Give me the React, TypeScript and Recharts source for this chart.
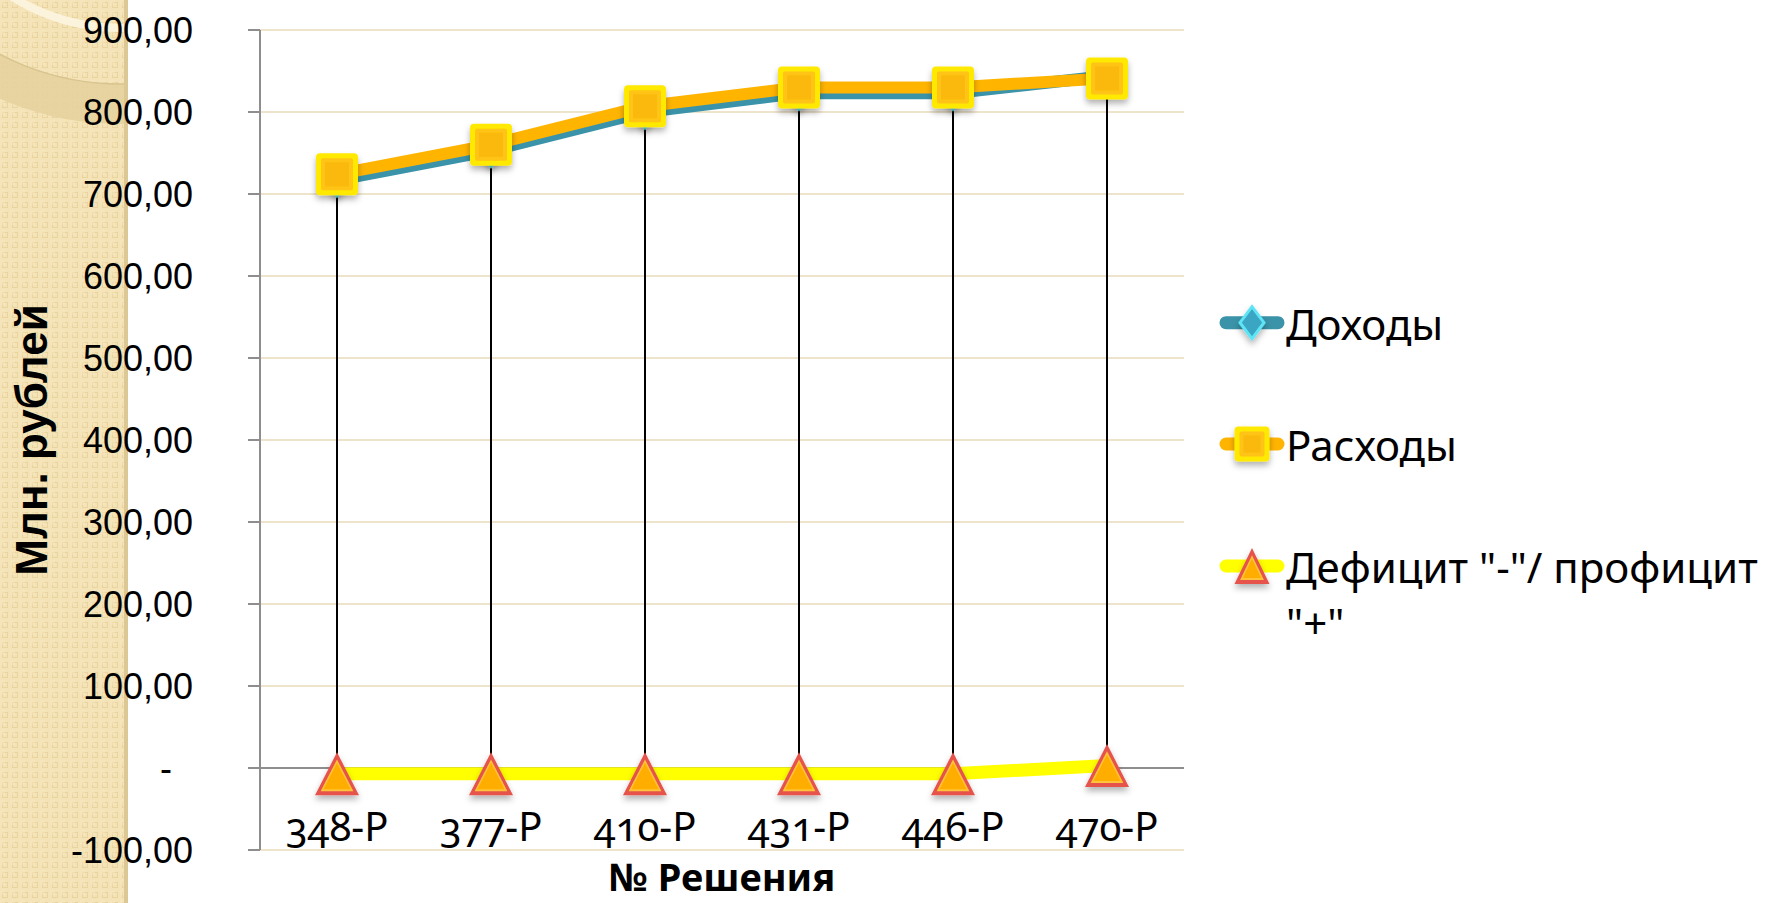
import React from "react";
import {
  ComposedChart,
  Line,
  Bar,
  XAxis,
  YAxis,
  CartesianGrid,
  ReferenceLine,
  Legend,
} from "recharts";

const categories = ["348-Р", "377-Р", "410-Р", "431-Р", "446-Р", "470-Р"];
const incomeValues = [717, 753, 800, 823, 823, 844];
const expenseValues = [724, 760, 807, 830, 830, 841];
const balanceValues = [-7, -7, -7, -7, -7, 3];
const seriesNames = ["Доходы", "Расходы", 'Дефицит "-"/ профицит "+"'];
const yTicks = [-100, 0, 100, 200, 300, 400, 500, 600, 700, 800, 900];
const xTitle = "№ Решения";
const yTitle = "Млн. рублей";

const chartData = categories.map((c, i) => {
  const vals = [incomeValues[i], expenseValues[i], balanceValues[i]];
  return {
    name: c,
    income: incomeValues[i],
    expense: expenseValues[i],
    balance: balanceValues[i],
    hiLo: [Math.min(...vals), Math.max(...vals)],
  };
});

const TEAL = "#3A93A8";
const ORANGE = "#FFB400";
const YELLOW = "#FFFF00";
const AXIS = "#8E8E8E";

function Diamond({ cx, cy, w = 14, h = 16 }: any) {
  return (
    <g filter="url(#mshadow)">
      <polygon
        points={`${cx},${cy - h} ${cx + w},${cy} ${cx},${cy + h} ${cx - w},${cy}`}
        fill="#3BA6C4"
        stroke="#5FE4F6"
        strokeWidth={3}
      />
    </g>
  );
}

function Square({ cx, cy, s = 21 }: any) {
  return (
    <g filter="url(#mshadow)">
      <rect x={cx - s} y={cy - s} width={s * 2} height={s * 2} rx={4} fill="#FFE900" />
      <rect x={cx - s + 5} y={cy - s + 5} width={s * 2 - 10} height={s * 2 - 10} rx={2} fill="#FFC414" />
      <rect x={cx - s + 9} y={cy - s + 9} width={s * 2 - 18} height={s * 2 - 18} fill="#FBB909" />
    </g>
  );
}

function Triangle({ cx, cy, w = 22, h = 21.5 }: any) {
  const tri = (k: number) =>
    `${cx},${cy - h + k * 1.8} ${cx + w - k * 1.4},${cy + h - k} ${cx - w + k * 1.4},${cy + h - k}`;
  return (
    <g filter="url(#mshadow)">
      <polygon points={tri(0)} fill="#E5534B" />
      <polygon points={tri(4)} fill="#FFC23A" />
      <polygon points={tri(6)} fill="#FFAE00" />
    </g>
  );
}

function YTick({ x, y, payload }: any) {
  const v = payload.value;
  const label = v === 0 ? "-" : v.toFixed(2).replace(".", ",");
  return (
    <text
      x={v === 0 ? x - 21 : x}
      y={y}
      dy="0.355em"
      textAnchor="end"
      fontFamily="Liberation Sans, Arial, sans-serif"
      fontSize={36}
      fill="#000"
    >
      {label}
    </text>
  );
}

function XTick({ x, y, payload }: any) {
  return (
    <text
      x={x}
      y={y - 9}
      textAnchor="middle"
      fontFamily="Noto Sans, sans-serif"
      fontSize={40}
      fill="#000"
      style={{ fontVariantNumeric: "oldstyle-nums" }}
    >
      {payload.value}
    </text>
  );
}

function XTitle({ viewBox }: any) {
  return (
    <text
      x={viewBox.x + viewBox.width / 2}
      y={viewBox.y + 41}
      textAnchor="middle"
      fontFamily="Noto Sans, sans-serif"
      fontWeight="bold"
      fontSize={38}
      fill="#000"
    >
      {xTitle}
    </text>
  );
}

function YTitle({ viewBox }: any) {
  const cx = viewBox.x + 31;
  const cy = viewBox.y + viewBox.height / 2;
  return (
    <text
      x={cx}
      y={cy}
      transform={`rotate(-90 ${cx} ${cy})`}
      textAnchor="middle"
      dominantBaseline="central"
      fontFamily="Liberation Sans, Arial, sans-serif"
      fontWeight="bold"
      fontSize={44}
      fill="#000"
    >
      {yTitle}
    </text>
  );
}

function ChartLegend() {
  const colors = [TEAL, ORANGE, YELLOW];
  const rows = [52.7, 174, 296];
  return (
    <svg
      width={571}
      height={420}
      style={{ position: "absolute", left: 1200, top: 270, overflow: "visible" }}
    >
      {seriesNames.map((name, i) => {
        const cy = rows[i];
        const cut = name.length > 20 ? name.lastIndexOf(" ") : -1;
        const lines = cut > 0 ? [name.slice(0, cut), name.slice(cut + 1)] : [name];
        return (
          <g key={name}>
            <line x1={26} x2={78} y1={cy} y2={cy} stroke={colors[i]} strokeWidth={13} strokeLinecap="round" />
            {i === 0 && <Diamond cx={52} cy={cy} w={12} h={16} />}
            {i === 1 && <Square cx={52} cy={cy} s={17.5} />}
            {i === 2 && <Triangle cx={52} cy={cy} w={17.5} h={18} />}
            {lines.map((t, j) => (
              <text
                key={j}
                x={86}
                y={cy + 17 + j * 56}
                fontFamily="Noto Sans, sans-serif"
                fontSize={42}
                fill="#000"
              >
                {t}
              </text>
            ))}
          </g>
        );
      })}
    </svg>
  );
}

function Background() {
  return (
    <svg width={1771} height={903} style={{ position: "absolute", left: 0, top: 0 }}>
      <defs>
        <pattern id="dots" width={10} height={10} patternUnits="userSpaceOnUse">
          <rect width={10} height={10} fill="#F4E3B6" />
          <rect x={2.5} y={2.5} width={5} height={5} fill="none" stroke="#E9D39F" strokeWidth={1} />
          <rect x={0} y={0} width={5} height={5} fill="#F7E8C0" opacity={0.5} />
        </pattern>
        <clipPath id="strip">
          <rect x={0} y={0} width={128} height={903} />
        </clipPath>
        <filter id="mshadow" x="-50%" y="-50%" width="200%" height="200%">
          <feDropShadow dx={0} dy={4} stdDeviation={3} floodColor="#000" floodOpacity={0.3} />
        </filter>
      </defs>
      <rect x={0} y={0} width={128} height={903} fill="url(#dots)" />
      <g clipPath="url(#strip)">
        <circle cx={120} cy={-174} r={278} fill="none" stroke="#E6D29E" strokeWidth={40} opacity={0.9} />
        <circle cx={120} cy={-174} r={258} fill="none" stroke="#D8C48F" strokeWidth={1.5} />
        <circle cx={120} cy={-174} r={202} fill="none" stroke="#FBF3DC" strokeWidth={8} />
      </g>
      <rect x={124} y={0} width={4} height={903} fill="#DCC895" />
    </svg>
  );
}

export default function App() {
  return (
    <div
      style={{
        position: "absolute",
        left: 0,
        top: 0,
        width: 1771,
        height: 903,
        background: "#fff",
        overflow: "hidden",
      }}
    >
      <Background />
      <div style={{ position: "absolute", left: 0, top: 0 }}>
        <ComposedChart
          width={1771}
          height={903}
          data={chartData}
          margin={{ top: 30, right: 587, left: 0, bottom: 0 }}
        >
          <CartesianGrid vertical={false} stroke="#EEE4CC" strokeWidth={2} />
          <XAxis
            dataKey="name"
            height={53}
            axisLine={false}
            tickLine={false}
            tickSize={0}
            tickMargin={0}
            interval={0}
            tick={<XTick />}
            label={<XTitle />}
          />
          <YAxis
            type="number"
            domain={[-100, 900]}
            ticks={yTicks}
            interval={0}
            allowDataOverflow
            width={260}
            tickSize={12}
            tickMargin={55}
            axisLine={{ stroke: AXIS, strokeWidth: 2 }}
            tickLine={{ stroke: AXIS, strokeWidth: 2 }}
            tick={<YTick />}
            label={<YTitle />}
          />
          <ReferenceLine y={0} stroke={AXIS} strokeWidth={2} />
          <Legend
            content={<ChartLegend />}
            wrapperStyle={{ left: 0, top: 0, width: 0, height: 0 }}
          />
          <Line
            dataKey="income"
            name={seriesNames[0]}
            stroke={TEAL}
            strokeWidth={12}
            isAnimationActive={false}
            dot={(p: any) => <Diamond key={`d${p.index}`} cx={p.cx} cy={p.cy} />}
          />
          <Line
            dataKey="expense"
            name={seriesNames[1]}
            stroke={ORANGE}
            strokeWidth={12}
            isAnimationActive={false}
            dot={(p: any) => <Square key={`s${p.index}`} cx={p.cx} cy={p.cy} />}
          />
          <Line
            dataKey="balance"
            name={seriesNames[2]}
            stroke={YELLOW}
            strokeWidth={13}
            isAnimationActive={false}
            dot={(p: any) => <Triangle key={`t${p.index}`} cx={p.cx} cy={p.cy} />}
          />
          <Bar
            dataKey="hiLo"
            barSize={2}
            fill="#000"
            legendType="none"
            isAnimationActive={false}
          />
        </ComposedChart>
      </div>
    </div>
  );
}
